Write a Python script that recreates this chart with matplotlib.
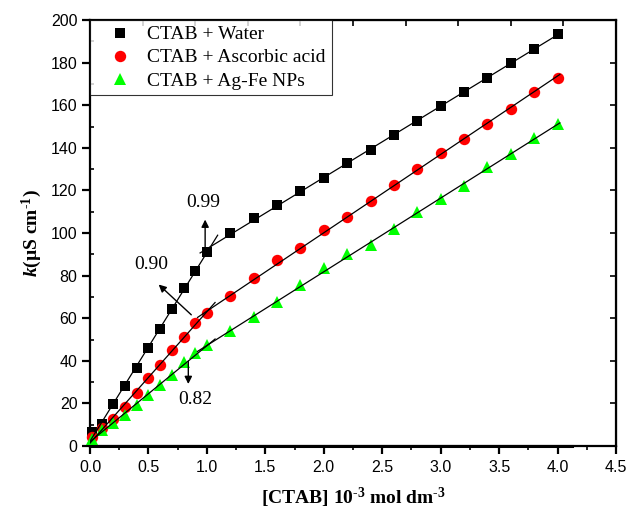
import numpy as np
import matplotlib
matplotlib.use("Agg")
import matplotlib.pyplot as plt
from matplotlib.ticker import MultipleLocator

# ---- data ----
conc = [0.02, 0.1, 0.2, 0.3, 0.4, 0.5, 0.6, 0.7, 0.8, 0.9, 1.0, 1.2, 1.4, 1.6,
        1.8, 2.0, 2.2, 2.4, 2.6, 2.8, 3.0, 3.2, 3.4, 3.6, 3.8, 4.0]
water = [6.5, 10.3, 19.7, 28.2, 36.5, 45.9, 54.8, 64.2, 74.0, 82.3, 91.2, 99.9,
         107.0, 113.2, 119.6, 125.8, 132.8, 139.1, 146.0, 152.4, 159.4, 166.3,
         172.6, 179.7, 186.6, 193.4]
ascorbic = [4.4, 8.5, 12.5, 18.5, 24.7, 31.8, 38.0, 45.0, 51.3, 57.6, 62.3, 70.4,
            78.7, 87.3, 92.9, 101.2, 107.4, 114.8, 122.5, 130.0, 137.7, 144.3,
            151.2, 158.4, 166.0, 173.0]
agfe = [3.5, 7.5, 10.8, 14.6, 19.2, 24.0, 28.6, 33.3, 39.6, 43.8, 47.4, 54.0,
        60.4, 67.8, 75.4, 83.4, 90.3, 94.2, 101.7, 110.0, 116.0, 122.0, 131.0,
        137.0, 144.4, 151.0]
labels = ["CTAB + Water", "CTAB + Ascorbic acid", "CTAB + Ag-Fe NPs"]
cmc = [0.99, 0.90, 0.82]
cmc_text = ["0.99", "0.90", "0.82"]

plt.rcParams['mathtext.fontset'] = 'custom'
plt.rcParams['mathtext.rm'] = 'Liberation Serif:bold'
plt.rcParams['mathtext.bf'] = 'Liberation Serif:bold'
plt.rcParams['mathtext.it'] = 'Liberation Serif:italic:bold'

fig = plt.figure(figsize=(6.3, 5.13), dpi=100)
ax = fig.add_axes([90/630, 67/513, 526/630, 426/513])

x = np.array(conc)
series = [np.array(water), np.array(ascorbic), np.array(agfe)]
styles = [dict(marker='s', color='black', ms=7.2),
          dict(marker='o', color='#ff0000', ms=8.2),
          dict(marker='^', color='#00ff00', ms=8.8)]

handles = []
for y, st, lab, c in zip(series, styles, labels, cmc):
    h, = ax.plot(x, y, linestyle='none', marker=st['marker'], color=st['color'],
                 markersize=st['ms'], markeredgewidth=0, label=lab, zorder=3,
                 clip_on=False)
    handles.append(h)
    pre = x <= c + 0.02
    post = x >= c - 0.02
    p1 = np.polyfit(x[pre], y[pre], 1)
    p2 = np.polyfit(x[post], y[post], 1)
    xi = (p2[1] - p1[1]) / (p1[0] - p2[0])
    xa = np.array([0.0, xi + 0.06])
    xb = np.array([xi - 0.09, 4.02])
    ax.plot(xa, np.polyval(p1, xa), color='black', lw=0.9, zorder=4)
    ax.plot(xb, np.polyval(p2, xb), color='black', lw=0.9, zorder=4)

# thick baseline at bottom
ax.plot([0, 4.12], [0, 0], color='black', lw=2.2, zorder=5, clip_on=False)

ax.set_xlim(0, 4.5)
ax.set_ylim(0, 200)

for s in ax.spines.values():
    s.set_linewidth(1.6)

ax.xaxis.set_major_locator(MultipleLocator(0.5))
ax.xaxis.set_minor_locator(MultipleLocator(0.25))
ax.yaxis.set_major_locator(MultipleLocator(20))
ax.yaxis.set_minor_locator(MultipleLocator(10))
ax.tick_params(axis='x', which='major', direction='out', length=6, width=1.6,
               labelsize=11.5, pad=4)
ax.tick_params(axis='x', which='minor', direction='out', length=3, width=1.2)
ax.tick_params(axis='y', which='major', direction='out', length=6, width=1.6,
               labelsize=11.5, pad=3)
ax.tick_params(axis='y', which='minor', direction='in', length=3, width=1.2)
for t in ax.get_xticklabels() + ax.get_yticklabels():
    t.set_family('Liberation Sans')
ax.xaxis.set_major_formatter(matplotlib.ticker.FormatStrFormatter('%.1f'))

top = ax.secondary_xaxis('top')
top.set_xticks(np.arange(0, 4.51, 0.45))
top.tick_params(direction='in', length=4, width=1.2, labeltop=False)
right = ax.secondary_yaxis('right')
right.set_yticks(np.arange(0, 201, 20))
right.tick_params(direction='in', length=4, width=1.2, labelright=False)
right.yaxis.set_minor_locator(matplotlib.ticker.NullLocator())
top.xaxis.set_minor_locator(matplotlib.ticker.NullLocator())

ax.set_xlabel('[CTAB] 10$^{\u2010 3}$ mol dm$^{\u2010 3}$', family='Liberation Serif',
              fontweight='bold', fontsize=14, labelpad=8)
ax.set_ylabel('$k$(µS cm$^{\u2010 1}$)', family='Liberation Serif',
              fontweight='bold', fontsize=14, labelpad=5)

leg = ax.legend(handles=handles, loc='upper left', bbox_to_anchor=(0.0, 1.0),
                borderaxespad=0.0, frameon=True, fancybox=False,
                prop={'family': 'Liberation Serif', 'size': 14},
                handletextpad=0.2, handlelength=2.45, labelspacing=0.28,
                borderpad=0.3)
leg.get_frame().set_edgecolor('black')
leg.get_frame().set_linewidth(0.8)

arrow = dict(arrowstyle='-|>', color='black', lw=1.0, mutation_scale=11)
# 0.99
ax.annotate('', xy=(0.985, 107.6), xytext=(0.985, 91.2), arrowprops=arrow)
ax.text(0.966, 114.5, cmc_text[0], ha='center', va='center',
        family='Liberation Serif', fontsize=14)
# 0.90
ax.annotate('', xy=(0.570, 76.7), xytext=(0.884, 60.7), arrowprops=arrow)
ax.text(0.527, 85.0, cmc_text[1], ha='center', va='center',
        family='Liberation Serif', fontsize=14)
# 0.82
ax.annotate('', xy=(0.841, 27.8), xytext=(0.841, 41.2), arrowprops=arrow)
ax.text(0.898, 21.6, cmc_text[2], ha='center', va='center',
        family='Liberation Serif', fontsize=14)

fig.savefig('out.png', dpi=100)
